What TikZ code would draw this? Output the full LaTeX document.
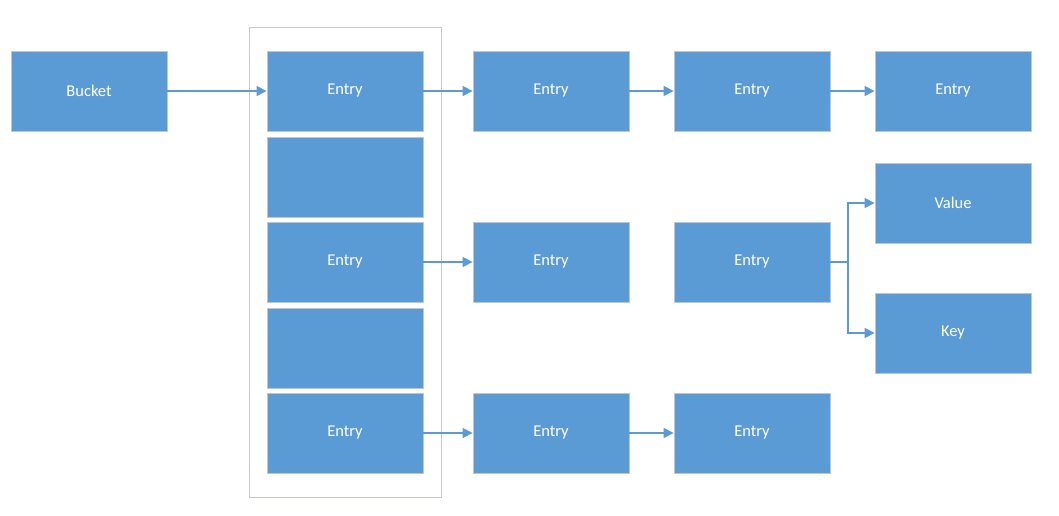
\documentclass[tikz,border=0pt]{standalone}
\usepackage{fontspec}
\setmainfont{Carlito}
\usetikzlibrary{arrows.meta}
\definecolor{boxblue}{HTML}{5B9BD5}
\definecolor{boxedge}{HTML}{C0C6CE}
\definecolor{frame}{HTML}{C3C9D1}
\begin{document}
\begin{tikzpicture}[x=1pt,y=-1pt,
  box/.style={draw=boxedge,line width=0.8pt,fill=boxblue,minimum width=156pt,minimum height=80pt,inner sep=0pt,text=white,font=\fontsize{16.5}{18}\selectfont},
  conn/.style={draw=boxblue,line width=1.3pt,-{Triangle[length=10pt,width=10pt]}}]
\useasboundingbox (0,0) rectangle (1059,516);
\node[draw=frame,line width=0.8pt,minimum width=192pt,minimum height=470pt,inner sep=0pt] (frame) at (345,262) {};
\node[box] (bucket) at (89,91) {Bucket};
\node[box] (e11) at (345,91) {Entry};
\node[box] (e12) at (345,177) {};
\node[box] (e13) at (345,262) {Entry};
\node[box] (e14) at (345,348) {};
\node[box] (e15) at (345,433) {Entry};
\node[box] (e21) at (551,91) {Entry};
\node[box] (e23) at (551,262) {Entry};
\node[box] (e25) at (551,433) {Entry};
\node[box] (e31) at (752,91) {Entry};
\node[box] (e33) at (752,262) {Entry};
\node[box] (e35) at (752,433) {Entry};
\node[box] (e41) at (953,91) {Entry};
\node[box] (val) at (953,203) {Value};
\node[box] (key) at (953,333) {Key};
\coordinate (fork) at (848,262);
\draw[conn] (bucket) -- (e11);
\draw[conn] (e11) -- (e21);
\draw[conn] (e21) -- (e31);
\draw[conn] (e31) -- (e41);
\draw[conn] (e13) -- (e23);
\draw[conn] (e15) -- (e25);
\draw[conn] (e25) -- (e35);
\draw[draw=boxblue,line width=1.3pt] (e33.east) -- (fork);
\draw[conn] (fork) |- (val.west);
\draw[conn] (fork) |- (key.west);
\end{tikzpicture}
\end{document}
